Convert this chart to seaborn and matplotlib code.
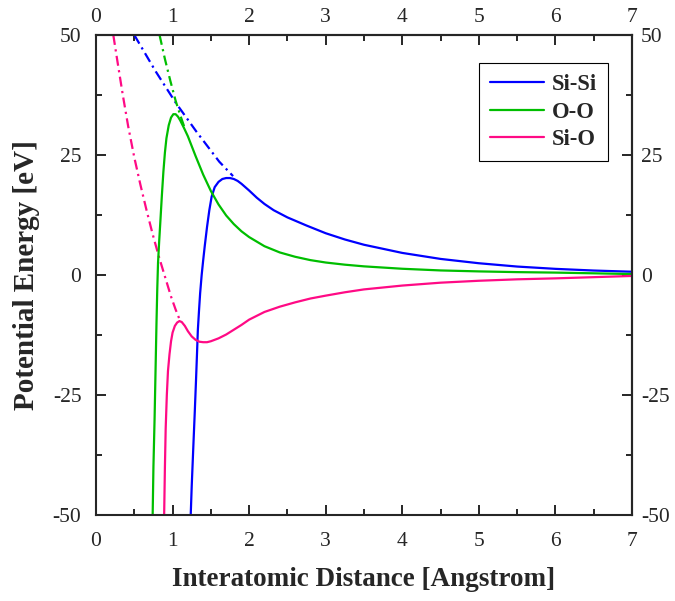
import matplotlib
matplotlib.use("Agg")
import matplotlib.pyplot as plt
from matplotlib.ticker import FixedLocator, NullFormatter
import seaborn as sns
import pandas as pd

# Pair potentials (solid) and their short-range continuations (dash-dot)
si_si_r = [1.237, 1.25, 1.273, 1.29, 1.306, 1.32, 1.33, 1.345, 1.36, 1.38, 1.40, 1.42, 1.45,
           1.48, 1.51, 1.55, 1.60, 1.65, 1.70, 1.75, 1.80, 1.85, 1.90, 2.0, 2.1, 2.2, 2.32,
           2.5, 2.75, 3.0, 3.25, 3.5, 4.0, 4.5, 5.0, 5.5, 6.0, 6.5, 7.0]
si_si_e = [-50, -44, -35, -28.5, -22, -16, -11.5, -7.5, -3.8, 0.0, 3.1, 6.0, 10.0,
           13.5, 16.3, 18.3, 19.4, 20.0, 20.2, 20.2, 20.0, 19.6, 19.0, 17.6, 16.1, 14.8, 13.5,
           12.0, 10.3, 8.7, 7.4, 6.3, 4.6, 3.35, 2.45, 1.76, 1.28, 0.93, 0.68]
si_si_rep_r = [0.5, 0.78, 1.045, 1.31, 1.61, 1.79]
si_si_rep_e = [50, 42.4, 35.8, 29.9, 23.6, 20.6]

o_o_r = [0.74, 0.75, 0.765, 0.78, 0.79, 0.80, 0.81, 0.825, 0.84, 0.86, 0.88, 0.90, 0.92,
         0.95, 0.98, 1.01, 1.04, 1.07, 1.10, 1.15, 1.2, 1.3, 1.4, 1.5, 1.6, 1.7, 1.8, 1.9,
         2.0, 2.2, 2.4, 2.6, 2.8, 3.0, 3.25, 3.5, 4.0, 4.5, 5.0, 5.5, 6.0, 6.5, 7.0]
o_o_e = [-50, -40, -30, -18, -10, -3.0, 2.5, 7.0, 11.0, 16.5, 21.5, 25.5, 28.5,
         31.2, 32.8, 33.5, 33.5, 33.0, 32.2, 30.6, 28.9, 24.8, 20.9, 17.5, 14.7, 12.4, 10.6,
         9.1, 7.9, 6.0, 4.7, 3.8, 3.1, 2.6, 2.15, 1.8, 1.3, 0.95, 0.75, 0.6, 0.5, 0.35, 0.2]
o_o_rep_r = [0.83, 0.9, 0.97, 1.04, 1.1, 1.15]
o_o_rep_e = [50, 45.0, 40.5, 36.3, 33.3, 31.0]

si_o_r = [0.89, 0.895, 0.90, 0.91, 0.925, 0.94, 0.96, 0.98, 1.0, 1.03, 1.06, 1.09, 1.12,
          1.16, 1.2, 1.25, 1.3, 1.35, 1.4, 1.45, 1.5, 1.6, 1.7, 1.8, 1.9, 2.0, 2.2, 2.4,
          2.6, 2.8, 3.0, 3.25, 3.5, 4.0, 4.5, 5.0, 5.5, 6.0, 6.5, 7.0]
si_o_e = [-50, -45, -40, -32, -25, -20, -16.5, -13.8, -12.0, -10.6, -9.9, -9.6, -9.8,
          -10.6, -11.7, -12.8, -13.5, -13.9, -14.0, -14.0, -13.8, -13.2, -12.4, -11.4, -10.4,
          -9.3, -7.7, -6.6, -5.7, -4.9, -4.3, -3.6, -3.0, -2.2, -1.6, -1.2, -0.9, -0.7,
          -0.45, -0.2]
si_o_rep_r = [0.226, 0.28, 0.35, 0.42, 0.5, 0.58, 0.66, 0.74, 0.82, 0.90, 0.98, 1.04, 1.10]
si_o_rep_e = [50, 44.5, 37.5, 31.0, 24.5, 18.8, 13.5, 8.5, 3.9, -0.3, -4.5, -7.2, -9.6]

# Axis ticks
x_major = [0, 1, 2, 3, 4, 5, 6, 7]
x_minor = [0.5, 1.5, 2.5, 3.5, 4.5, 5.5, 6.5]
y_major = [-50, -25, 0, 25, 50]
y_minor = [-37.5, -12.5, 12.5, 37.5]

pairs = ["Si-Si", "O-O", "Si-O"]
colors = {"Si-Si": "#0000FF", "O-O": "#00BE00", "Si-O": "#FF0A85"}

solid = pd.concat([
    pd.DataFrame({"r": si_si_r, "E": si_si_e, "pair": "Si-Si"}),
    pd.DataFrame({"r": o_o_r, "E": o_o_e, "pair": "O-O"}),
    pd.DataFrame({"r": si_o_r, "E": si_o_e, "pair": "Si-O"}),
], ignore_index=True)
rep = pd.concat([
    pd.DataFrame({"r": si_si_rep_r, "E": si_si_rep_e, "pair": "Si-Si"}),
    pd.DataFrame({"r": o_o_rep_r, "E": o_o_rep_e, "pair": "O-O"}),
    pd.DataFrame({"r": si_o_rep_r, "E": si_o_rep_e, "pair": "Si-O"}),
], ignore_index=True)

sns.set_style("ticks")
plt.rcParams["font.family"] = ["Liberation Serif", "DejaVu Serif"]
plt.rcParams["axes.unicode_minus"] = False

fig = plt.figure(figsize=(6.75, 6.01), dpi=100)
ax = fig.add_axes([96 / 675, 1 - 515 / 601, (632 - 96) / 675, (515 - 35) / 601])

dashdot = (0, (4.5, 2.0, 1.0, 2.0))
for p in pairs:
    sub = rep[rep.pair == p]
    sns.lineplot(data=sub, x="r", y="E", ax=ax, color=colors[p], lw=1.6,
                 linestyle=dashdot, sort=False, estimator=None, legend=False)
for p in pairs:
    sub = solid[solid.pair == p]
    sns.lineplot(data=sub, x="r", y="E", ax=ax, color=colors[p], lw=1.6,
                 sort=False, estimator=None, label=p)

ax.set_xlim(0, 7)
ax.set_ylim(-50, 50)


def style_ticks(axis_obj, xy, pad):
    loc = axis_obj.xaxis if xy == "x" else axis_obj.yaxis
    loc.set_major_locator(FixedLocator(x_major if xy == "x" else y_major))
    loc.set_minor_locator(FixedLocator(x_minor if xy == "x" else y_minor))
    loc.set_minor_formatter(NullFormatter())
    loc.get_offset_text().set_visible(False)
    axis_obj.tick_params(axis=xy, which="both", direction="in", width=1.4,
                         labelsize=15.5, pad=pad)
    axis_obj.tick_params(axis=xy, which="major", length=7)
    axis_obj.tick_params(axis=xy, which="minor", length=4)


style_ticks(ax, "x", 12)
style_ticks(ax, "y", 10.5)

# mirrored scales on the top and right edges
top = ax.secondary_xaxis("top")
right = ax.secondary_yaxis("right")
style_ticks(top, "x", 6)
style_ticks(right, "y", 6.5)

for a in (ax, top, right):
    for s in a.spines.values():
        s.set_linewidth(1.5)

ax.set_xlabel("Interatomic Distance [Angstrom]", fontsize=19.5, fontweight="bold",
              labelpad=12)
ax.set_ylabel("Potential Energy [eV]", fontsize=21, fontweight="bold", labelpad=9)

leg = ax.legend(loc="upper left", bbox_to_anchor=((479 - 96) / 536, (515 - 63) / 480),
                fancybox=False, edgecolor="black", framealpha=1, handlelength=2.35,
                handletextpad=0.35, borderpad=0.5, labelspacing=0.28,
                borderaxespad=0, prop={"weight": "bold", "size": 16.3})
leg.get_frame().set_linewidth(0.8)

fig.savefig("out.png", dpi=100)
